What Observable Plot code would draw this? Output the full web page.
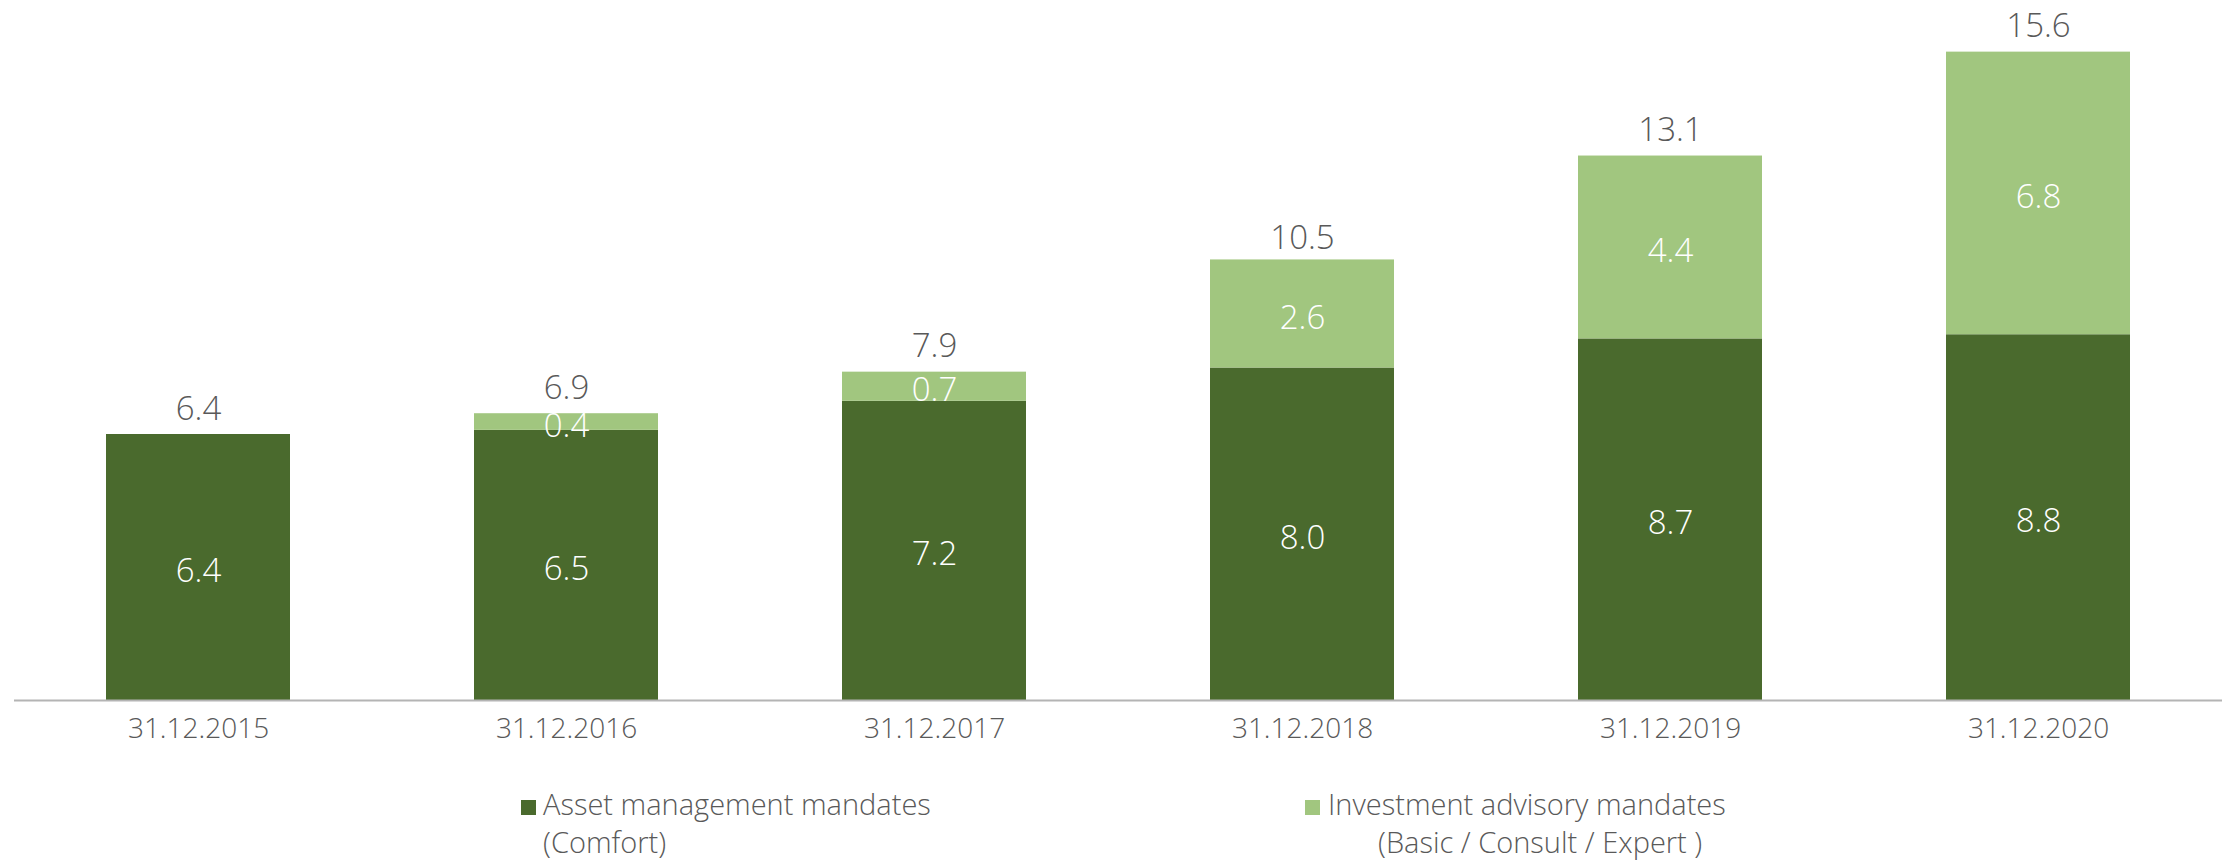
<!DOCTYPE html>
<html>
<head>
<meta charset="utf-8">
<script src="https://cdn.jsdelivr.net/npm/d3@7"></script>
<script src="https://cdn.jsdelivr.net/npm/@observablehq/plot@0.6"></script>
<style>
  html, body { margin: 0; padding: 0; background: #fff; }
  #wrap { position: relative; width: 2236px; height: 862px; font-family: "Open Sans", sans-serif; font-weight: 300; color: #595959; }
  .sw { position: absolute; width: 15px; height: 15px; }
  .lt { position: absolute; font-size: 29px; line-height: 38px; white-space: pre; }
</style>
</head>
<body>
<div id="wrap">
  <div id="chart"></div>
  <div class="sw" style="left:521px; top:800px; background:#4a6a2d"></div>
  <div class="lt" style="left:543px; top:785px">Asset management mandates<br>(Comfort)</div>
  <div class="sw" style="left:1305px; top:800px; background:#a1c67f"></div>
  <div class="lt" style="left:1328px; top:785px">Investment advisory mandates<br><span style="padding-left:50px">(Basic / Consult / Expert )</span></div>
</div>
<script>
const dates = ["31.12.2015", "31.12.2016", "31.12.2017", "31.12.2018", "31.12.2019", "31.12.2020"];
const series = ["Asset management mandates (Comfort)", "Investment advisory mandates (Basic / Consult / Expert )"];
const assetMgmt = [6.4, 6.5, 7.2, 8.0, 8.7, 8.8];
const advisory = [0, 0.4, 0.7, 2.6, 4.4, 6.8];
const totals = [6.4, 6.9, 7.9, 10.5, 13.1, 15.6];
const colors = ["#4a6a2d", "#a1c67f"];

const rows = [];
dates.forEach((d, i) => {
  rows.push({date: d, series: series[0], value: assetMgmt[i]});
  rows.push({date: d, series: series[1], value: advisory[i]});
});
const totalRows = dates.map((d, i) => ({date: d, total: totals[i]}));

const chart = Plot.plot({
  width: 2236,
  height: 760,
  marginLeft: 14,
  marginRight: 14,
  marginTop: 35,
  marginBottom: 60,
  style: {fontFamily: "'Open Sans', sans-serif", fontWeight: 300, background: "#fff"},
  x: {domain: dates, paddingInner: 0.5, paddingOuter: 0.25, label: null, tickSize: 0, tickPadding: 18},
  y: {domain: [0, 16], axis: null},
  color: {domain: series, range: colors},
  marks: [
    Plot.barY(rows, {x: "date", y: "value", fill: "series", order: series}),
    Plot.ruleY([0], {stroke: "#b4b4b4", strokeWidth: 2}),
    Plot.axisX({tickSize: 0, tickPadding: 18, fontSize: 28, color: "#595959", fill: "#595959", label: null}),
    Plot.text(rows, Plot.stackY({x: "date", y: "value", z: "series", order: series,
      text: d => d.value > 0 ? d.value.toFixed(1) : "", fill: "#fff", fontSize: 33, dy: 4})),
    Plot.text(totalRows, {x: "date", y: "total", text: d => d.total.toFixed(1), fill: "#595959",
      fontSize: 33, lineAnchor: "bottom", dy: -15})
  ]
});
document.getElementById("chart").appendChild(chart);
</script>
</body>
</html>
